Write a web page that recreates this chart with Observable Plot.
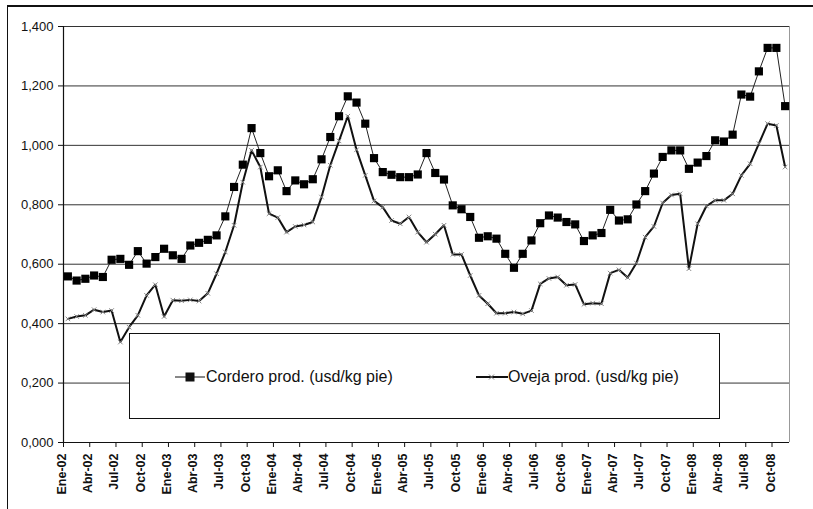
<!DOCTYPE html>
<html>
<head>
<meta charset="utf-8">
<script src="https://cdn.jsdelivr.net/npm/d3@7"></script>
<script src="https://cdn.jsdelivr.net/npm/@observablehq/plot@0.6"></script>
<style>
  body { margin: 0; background: #fff; }
  #wrap { position: relative; width: 813px; height: 509px; overflow: hidden; font-family: "Liberation Sans", Arial, sans-serif; }
  #frame { position: absolute; left: 7px; top: 5px; width: 900px; height: 600px; border-left: 1.5px solid #111; border-top: 2px solid #111; }
  #chart { position: absolute; left: 0; top: 0; }
  #legend { position: absolute; left: 129px; top: 333px; width: 589px; height: 84px; border: 1px solid #111; background: #fff; }
  .item { position: absolute; top: 32px; height: 22px; display: flex; align-items: center; font-size: 16px; color: #111; white-space: nowrap; }
</style>
</head>
<body>
<div id="wrap">
  <div id="frame"></div>
  <div id="chart"></div>
  <div id="legend">
    <div class="item" style="left:45px">
      <svg width="30" height="12"><line x1="0" y1="6" x2="30" y2="6" stroke="#111" stroke-width="1"/><rect x="10.5" y="1.5" width="9" height="9" fill="#111"/></svg>
      <span style="margin-left:1px">Cordero prod. (usd/kg pie)</span>
    </div>
    <div class="item" style="left:346px">
      <svg width="32" height="12"><line x1="0" y1="6" x2="32" y2="6" stroke="#111" stroke-width="2"/><path d="M13,3.5L18,8.5M18,3.5L13,8.5" stroke="#777" stroke-width="1"/></svg>
      <span style="margin-left:0px">Oveja prod. (usd/kg pie)</span>
    </div>
  </div>
</div>
<script>
const monthNames = ["Ene","Feb","Mar","Abr","May","Jun","Jul","Ago","Sep","Oct","Nov","Dic"];
const years = ["02","03","04","05","06","07","08"];
const categories = [];
for (const y of years) for (const m of monthNames) categories.push(m + "-" + y);
categories.length = 83; // Ene-02 .. Nov-08

const cordero = [
  0.559,0.545,0.551,0.562,0.557,0.615,0.618,0.598,0.644,0.602,0.624,0.652,
  0.630,0.618,0.663,0.672,0.682,0.697,0.761,0.860,0.935,1.058,0.974,0.896,
  0.916,0.846,0.882,0.869,0.886,0.953,1.028,1.098,1.165,1.144,1.073,0.957,
  0.910,0.901,0.893,0.893,0.902,0.974,0.907,0.885,0.798,0.785,0.759,0.689,
  0.694,0.686,0.635,0.588,0.635,0.680,0.738,0.764,0.757,0.742,0.734,0.678,
  0.697,0.705,0.783,0.747,0.751,0.801,0.846,0.905,0.961,0.983,0.983,0.921,
  0.942,0.964,1.017,1.013,1.036,1.171,1.164,1.249,1.328,1.328,1.132
];
const oveja = [
  0.416,0.424,0.428,0.447,0.439,0.444,0.338,0.388,0.428,0.495,0.531,0.424,
  0.479,0.477,0.480,0.476,0.502,0.568,0.641,0.731,0.876,0.983,0.927,0.770,
  0.757,0.708,0.727,0.732,0.742,0.826,0.933,1.015,1.098,0.985,0.899,0.813,
  0.792,0.747,0.736,0.759,0.708,0.674,0.701,0.731,0.633,0.633,0.562,0.495,
  0.467,0.435,0.435,0.439,0.433,0.444,0.534,0.552,0.557,0.529,0.532,0.465,
  0.469,0.467,0.570,0.581,0.555,0.604,0.691,0.727,0.806,0.833,0.837,0.585,
  0.736,0.796,0.815,0.815,0.837,0.899,0.938,1.006,1.073,1.067,0.927
];
const yTicks = [0, 0.2, 0.4, 0.6, 0.8, 1.0, 1.2, 1.4];
const tickLabels = ["Ene-02","Abr-02","Jul-02","Oct-02","Ene-03","Abr-03","Jul-03","Oct-03",
  "Ene-04","Abr-04","Jul-04","Oct-04","Ene-05","Abr-05","Jul-05","Oct-05",
  "Ene-06","Abr-06","Jul-06","Oct-06","Ene-07","Abr-07","Jul-07","Oct-07",
  "Ene-08","Abr-08","Jul-08","Oct-08"];

const rows = categories.map((c, i) => ({pos: i + 0.5, cat: c, cordero: cordero[i], oveja: oveja[i]}));
const tickPos = tickLabels.map(l => categories.indexOf(l));
const fmt = d => d3.format(".3f")(d).replace(".", ",");

const chart = Plot.plot({
  width: 813, height: 509,
  marginLeft: 63, marginRight: 24, marginTop: 26, marginBottom: 67,
  x: {type: "linear", domain: [0, categories.length]},
  y: {domain: [0, 1.4]},
  style: {fontFamily: "'Liberation Sans', Arial, sans-serif", background: "transparent", color: "#111"},
  marks: [
    Plot.ruleY(yTicks.slice(1), {stroke: "#333", strokeWidth: 1}),
    Plot.ruleX([categories.length], {stroke: "#999", strokeWidth: 1}),
    Plot.axisY({ticks: yTicks, tickSize: 5, tickPadding: 5, tickFormat: fmt, fontSize: 13, label: null, stroke: "#111"}),
    Plot.axisX({ticks: tickPos, tickSize: 5, tickFormat: () => "", label: null, stroke: "#111"}),
    Plot.text(tickPos, {x: d => d, text: (d, i) => tickLabels[i], frameAnchor: "bottom", rotate: -90, textAnchor: "end", dy: 11, dx: 2.5, fontWeight: "bold", fontSize: 12.5, fill: "#111"}),
    Plot.ruleY([0], {stroke: "#111", strokeWidth: 1.2}),
    Plot.ruleX([0], {stroke: "#111", strokeWidth: 1.2}),
    Plot.line(rows, {x: "pos", y: "cordero", stroke: "#222", strokeWidth: 1}),
    Plot.dot(rows, {x: "pos", y: "cordero", symbol: "square", r: 4.6, fill: "#000", stroke: "none"}),
    Plot.line(rows, {x: "pos", y: "oveja", stroke: "#111", strokeWidth: 2}),
    Plot.dot(rows, {x: "pos", y: "oveja", symbol: "times", r: 2.2, stroke: "#888", strokeWidth: 1})
  ]
});
document.getElementById("chart").appendChild(chart);
</script>
</body>
</html>
